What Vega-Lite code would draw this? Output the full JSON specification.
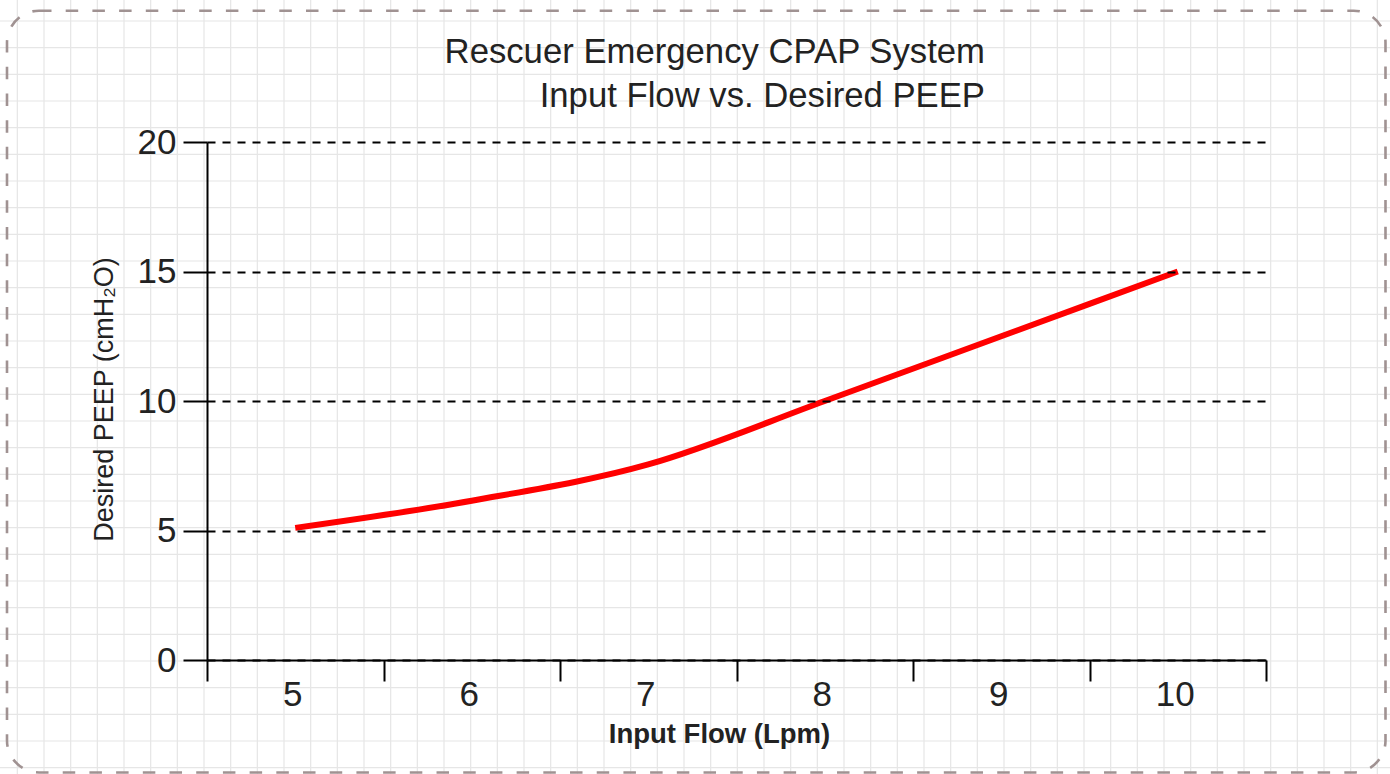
{
  "$schema": "https://vega.github.io/schema/vega-lite/v6.json",
  "width": 1059,
  "height": 518,
  "autosize": {"type": "none"},
  "padding": {"left": 207, "top": 142, "right": 124, "bottom": 114},
  "background": "white",
  "config": {"view": {"stroke": null}, "font": "Liberation Sans"},
  "title": {
    "text": ["Rescuer Emergency CPAP System", "Input Flow vs. Desired PEEP"],
    "anchor": "end",
    "align": "right",
    "frame": "group",
    "orient": "top",
    "offset": 0,
    "dx": -281,
    "dy": 115.6,
    "font": "Liberation Sans",
    "fontSize": 34.7,
    "fontWeight": "normal",
    "color": "#222222",
    "lineHeight": 44
  },
  "datasets": {
    "paperColumns": [
      {"col": 0}, {"col": 1}, {"col": 2}, {"col": 3}, {"col": 4}, {"col": 5}, {"col": 6}, {"col": 7}, {"col": 8}, {"col": 9},
      {"col": 10}, {"col": 11}, {"col": 12}, {"col": 13}, {"col": 14}, {"col": 15}, {"col": 16}, {"col": 17}, {"col": 18}, {"col": 19},
      {"col": 20}, {"col": 21}, {"col": 22}, {"col": 23}, {"col": 24}, {"col": 25}, {"col": 26}, {"col": 27}, {"col": 28}, {"col": 29},
      {"col": 30}, {"col": 31}, {"col": 32}, {"col": 33}, {"col": 34}, {"col": 35}, {"col": 36}, {"col": 37}, {"col": 38}, {"col": 39},
      {"col": 40}, {"col": 41}, {"col": 42}, {"col": 43}, {"col": 44}, {"col": 45}, {"col": 46}, {"col": 47}, {"col": 48}, {"col": 49},
      {"col": 50}, {"col": 51}
    ],
    "paperRows": [
      {"row": 0}, {"row": 1}, {"row": 2}, {"row": 3}, {"row": 4}, {"row": 5}, {"row": 6}, {"row": 7}, {"row": 8}, {"row": 9},
      {"row": 10}, {"row": 11}, {"row": 12}, {"row": 13}, {"row": 14}, {"row": 15}, {"row": 16}, {"row": 17}, {"row": 18}, {"row": 19},
      {"row": 20}, {"row": 21}, {"row": 22}, {"row": 23}, {"row": 24}, {"row": 25}, {"row": 26}, {"row": 27}, {"row": 28}
    ],
    "peep": [
      {"flow": 5, "peep": 5.1},
      {"flow": 6, "peep": 6.15},
      {"flow": 7, "peep": 7.55},
      {"flow": 8, "peep": 10},
      {"flow": 9, "peep": 12.5},
      {"flow": 10, "peep": 15}
    ]
  },
  "layer": [
    {
      "layer": [
        {
          "data": {"name": "paperColumns"},
          "mark": {"type": "rule", "color": "#e6e6e6", "strokeWidth": 1.2},
          "encoding": {
            "x": {"field": "col", "type": "quantitative", "scale": {"domain": [7.1125, 46.825], "nice": false, "zero": false}, "axis": null},
            "y": {"datum": -0.7875, "type": "quantitative", "scale": {"domain": [4.5375, 23.9625], "nice": false, "zero": false, "reverse": true}, "axis": null},
            "y2": {"datum": 28.2375}
          }
        },
        {
          "data": {"name": "paperRows"},
          "mark": {"type": "rule", "color": "#e6e6e6", "strokeWidth": 1.2},
          "encoding": {
            "y": {"field": "row", "type": "quantitative", "scale": {"domain": [4.5375, 23.9625], "nice": false, "zero": false, "reverse": true}, "axis": null},
            "x": {"datum": -0.65, "type": "quantitative", "scale": {"domain": [7.1125, 46.825], "nice": false, "zero": false}, "axis": null},
            "x2": {"datum": 51.475}
          }
        },
        {
          "data": {"values": [{}]},
          "mark": {"type": "rect", "filled": false, "stroke": "#a09292", "strokeWidth": 2.6, "strokeDash": [12.5, 14.2], "cornerRadius": 32},
          "encoding": {
            "x": {"datum": -0.3875, "type": "quantitative", "scale": {"domain": [7.1125, 46.825], "nice": false, "zero": false}, "axis": null},
            "x2": {"datum": 51.306},
            "y": {"datum": -0.386, "type": "quantitative", "scale": {"domain": [4.5375, 23.9625], "nice": false, "zero": false, "reverse": true}, "axis": null},
            "y2": {"datum": 28.18}
          }
        }
      ]
    },
    {
      "data": {"name": "peep"},
      "mark": {"type": "line", "color": "#ff0000", "strokeWidth": 6, "interpolate": "monotone", "strokeCap": "butt"},
      "encoding": {
        "x": {
          "field": "flow",
          "type": "ordinal",
          "bandPosition": 0.5,
          "scale": {"type": "band", "paddingInner": 0, "paddingOuter": 0},
          "axis": {
            "orient": "bottom",
            "title": "Input Flow (Lpm)",
            "tickBand": "extent",
            "labelAngle": 0,
            "labelFont": "Liberation Sans",
            "labelFontSize": 35,
            "labelColor": "#222222",
            "labelPadding": -4,
            "labelOffset": -3,
            "tickSize": 21,
            "tickWidth": 2,
            "tickColor": "#000000",
            "domainColor": "#000000",
            "domainWidth": 2,
            "grid": false,
            "titleFont": "Liberation Sans",
            "titleFontSize": 27.5,
            "titleFontWeight": "bold",
            "titleColor": "#222222",
            "titleX": 512,
            "titleY": 82,
            "titleAlign": "center",
            "titleBaseline": "alphabetic",
            "zindex": 1
          }
        },
        "y": {
          "field": "peep",
          "type": "quantitative",
          "scale": {"domain": [0, 20], "nice": false, "zero": true},
          "axis": {
            "orient": "left",
            "title": "Desired PEEP (cmH₂O)",
            "values": [0, 5, 10, 15, 20],
            "grid": true,
            "gridColor": "#000000",
            "gridDash": [8, 7],
            "gridWidth": 2,
            "tickSize": 24,
            "tickWidth": 2,
            "tickColor": "#000000",
            "domainColor": "#000000",
            "domainWidth": 2,
            "labelFont": "Liberation Sans",
            "labelFontSize": 35,
            "labelColor": "#222222",
            "labelPadding": 7,
            "titleFont": "Liberation Sans",
            "titleFontSize": 27,
            "titleFontWeight": "normal",
            "titleColor": "#222222",
            "titleAngle": -90,
            "titleX": -94.7,
            "titleY": 257,
            "titleAlign": "center",
            "titleBaseline": "alphabetic",
            "zindex": 1
          }
        }
      }
    }
  ],
  "resolve": {"scale": {"x": "independent", "y": "independent"}}
}
